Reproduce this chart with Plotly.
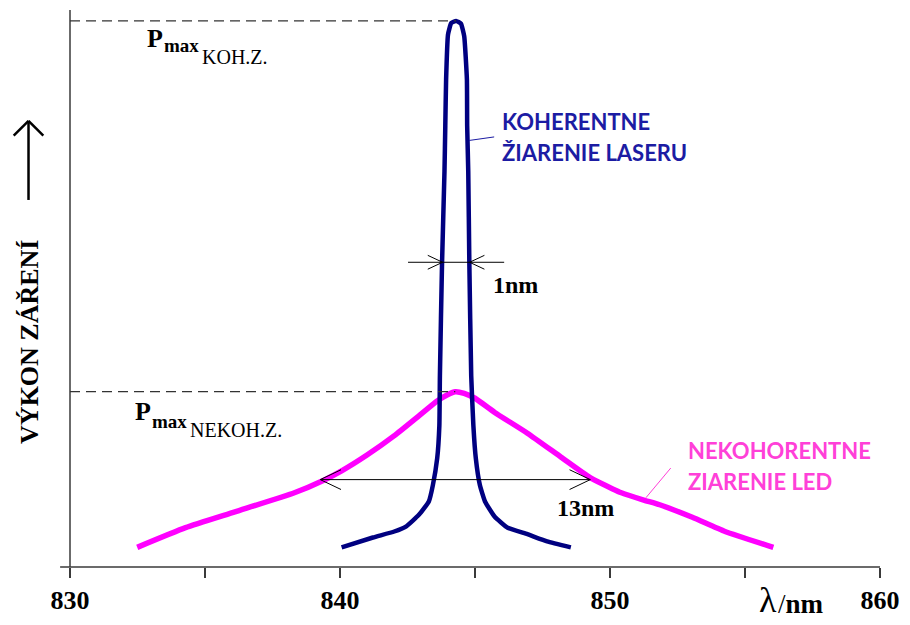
import plotly.graph_objects as go

# Spectral power of a laser (coherent) and an LED (incoherent) source, arbitrary units
laser_wl = [840.06, 841.22, 842.01, 842.44, 842.93, 843.29, 843.44, 843.60, 843.68, 843.70,
            843.78, 843.87, 843.90, 843.93, 844.00, 844.12, 844.30, 844.48, 844.60, 844.70,
            844.71, 844.75, 844.79, 844.86, 844.94, 845.03, 845.18, 845.37, 845.73, 846.21,
            846.94, 847.67, 848.55]
laser_pw = [0.036, 0.054, 0.065, 0.074, 0.096, 0.120, 0.150, 0.199, 0.259, 0.350,
            0.558, 0.725, 0.808, 0.893, 0.975, 0.996, 1.000, 0.995, 0.972, 0.893,
            0.808, 0.725, 0.558, 0.350, 0.259, 0.199, 0.150, 0.120, 0.092, 0.072,
            0.060, 0.047, 0.036]

led_wl = [832.49, 834.28, 836.11, 838.31, 839.40, 840.06, 841.00, 842.00, 843.00, 843.60,
          844.00, 844.27, 844.60, 845.00, 845.73, 846.94, 848.19, 849.28, 850.10, 850.42,
          851.22, 851.84, 853.05, 854.26, 856.05]
led_pw = [0.036, 0.072, 0.101, 0.136, 0.159, 0.176, 0.205, 0.240, 0.280, 0.304,
          0.316, 0.321, 0.318, 0.309, 0.283, 0.245, 0.201, 0.163, 0.143, 0.136,
          0.123, 0.114, 0.091, 0.065, 0.036]

x_ticks = [830, 835, 840, 845, 850, 855, 860]
x_tick_text = ["830", "", "840", "", "850", "", "860"]

laser_fwhm = 1.0          # labelled "1nm"
laser_fwhm_level = 0.558
led_arrow = [839.27, 849.27]
led_arrow_level = 0.16

W, H = 910, 625
ML, MR, MT, MB = 70, 20, 10, 52
X0, X1 = 830, 860
Y_TOP = 563 / 552

PW = W - ML - MR
PH = H - MT - MB
XS = PW / (X1 - X0)       # px per nm
YS = PH / Y_TOP           # px per power unit

laser_peak_i = laser_pw.index(max(laser_pw))
laser_peak_x, laser_peak_y = laser_wl[laser_peak_i], laser_pw[laser_peak_i]
led_peak_i = led_pw.index(max(led_pw))
led_peak_x, led_peak_y = led_wl[led_peak_i], led_pw[led_peak_i]

SERIF = "Liberation Serif"
SANS = "Lato"
NAVY = "#000080"
MAGENTA = "#ff00ff"
AXIS = "#3a3a3a"
BLUE_TXT = "#1c1ca3"
PINK_TXT = "#ff40d8"

fig = go.Figure()
fig.add_trace(go.Scatter(x=led_wl, y=led_pw, mode="lines",
                         line=dict(color=MAGENTA, width=5.5, shape="spline", smoothing=0.5),
                         hoverinfo="skip", showlegend=False))
fig.add_trace(go.Scatter(x=laser_wl, y=laser_pw, mode="lines",
                         line=dict(color=NAVY, width=4.5, shape="spline", smoothing=0.4),
                         hoverinfo="skip", showlegend=False))

shapes = []


def seg(x0, y0, x1, y1, color="black", width=1, dash=None, xref="x", yref="y"):
    ln = dict(color=color, width=width)
    if dash:
        ln["dash"] = dash
    shapes.append(dict(type="line", x0=x0, y0=y0, x1=x1, y1=y1,
                       xref=xref, yref=yref, line=ln, layer="above"))


# axes
seg(0, 0, 0, 1, color=AXIS, width=1.5, xref="paper", yref="paper")
seg(-10 / PW, 0, 1, 0, color=AXIS, width=1.5, xref="paper", yref="paper")

# level markers for the two maxima
seg(X0 - 15 / XS, laser_peak_y, X0, laser_peak_y, color=AXIS, width=1.2)
seg(X0, laser_peak_y, laser_peak_x, laser_peak_y, color="#333333", width=1.2, dash="10px,6px")
seg(X0 - 10 / XS, led_peak_y, X0, led_peak_y, color=AXIS, width=1.2)
seg(X0, led_peak_y, led_peak_x, led_peak_y, color="#333333", width=1.2, dash="10px,6px")

# 1 nm width marker (arrows pointing inwards)
half = laser_fwhm / 2
lx0, lx1 = laser_peak_x - half, laser_peak_x + half
seg(lx0 - 35 / XS, laser_fwhm_level, lx1 + 35 / XS, laser_fwhm_level, width=1)
for tip, d in ((lx0, -1), (lx1, 1)):
    seg(tip, laser_fwhm_level, tip + d * 15 / XS, laser_fwhm_level + 7 / YS, width=1)
    seg(tip, laser_fwhm_level, tip + d * 15 / XS, laser_fwhm_level - 7 / YS, width=1)

# 13 nm width marker (arrows pointing outwards)
ax0, ax1 = led_arrow
seg(ax0, led_arrow_level, ax1, led_arrow_level, width=1)
for tip, d in ((ax0, 1), (ax1, -1)):
    seg(tip, led_arrow_level, tip + d * 21 / XS, led_arrow_level + 10 / YS, width=1)
    seg(tip, led_arrow_level, tip + d * 21 / XS, led_arrow_level - 10 / YS, width=1)

# leader lines for the curve labels
seg(844.78, 0.781, 845.71, 0.7875, color=BLUE_TXT, width=1)
seg(851.33, 0.1268, 852.25, 0.1812, color=PINK_TXT, width=1)

# upward arrow beside the y title
ax_x = (28 - ML) / PW
y_lo, y_hi = (573 - 202) / PH, (573 - 122) / PH
arm_y = (573 - 137) / PH
seg(ax_x, y_lo, ax_x, y_hi, width=2.5, xref="paper", yref="paper")
seg((13 - ML) / PW, arm_y, ax_x, y_hi, width=2.5, xref="paper", yref="paper")
seg((43 - ML) / PW, arm_y, ax_x, y_hi, width=2.5, xref="paper", yref="paper")

ann = []


def text(s, x, y, size, color="black", family=SERIF, xanchor="center", xref="x", yref="y",
         angle=0):
    ann.append(dict(text=s, x=x, y=y, xref=xref, yref=yref, showarrow=False,
                    xanchor=xanchor, yanchor="middle", textangle=angle, borderpad=0,
                    font=dict(family=family, size=size, color=color)))


# P_max labels: "P", subscript "max", then the source name lower still
text("<b>P</b>", 832.82, 0.968, 26, xanchor="left")
text("<b>max</b>", 833.45, 0.9556, 19, xanchor="left")
text("KOH.Z.", 834.85, 0.934, 20, xanchor="left")
text("<b>P</b>", 832.38, 0.2844, 26, xanchor="left")
text("<b>max</b>", 833.01, 0.2663, 19, xanchor="left")
text("NEKOH.Z.", 834.41, 0.2509, 20, xanchor="left")

text("<b>1nm</b>", 846.50, 0.516, 24)
text("<b>13nm</b>", 849.09, 0.1087, 24)

text("<b>KOHERENTNE</b>", 845.97, 0.815, 22, color=BLUE_TXT, family=SANS, xanchor="left")
text("<b>ŽIARENIE LASERU</b>", 845.97, 0.759, 22, color=BLUE_TXT, family=SANS, xanchor="left")
text("<b>NEKOHORENTNE</b>", 852.87, 0.2138, 22, color=PINK_TXT, family=SANS, xanchor="left")
text("<b>ZIARENIE LED</b>", 852.87, 0.1558, 22, color=PINK_TXT, family=SANS, xanchor="left")

# axis titles
text("λ", 856.24, -0.060, 36, xanchor="right", yref="paper")
text("/<b>nm</b>", 856.20, -0.066, 27, xanchor="left", yref="paper")
text("<b>VÝKON ZÁŘENÍ</b>", (29 - ML) / PW, (573 - 346) / PH, 26,
     xref="paper", yref="paper", angle=-90)

fig.update_layout(
    width=W, height=H,
    margin=dict(l=ML, r=MR, t=MT, b=MB, pad=0),
    paper_bgcolor="white", plot_bgcolor="white",
    shapes=shapes, annotations=ann,
    xaxis=dict(range=[X0, X1], tickvals=x_ticks,
               ticktext=[f"<b>{t}</b>" if t else "" for t in x_tick_text],
               ticks="outside", ticklen=10, tickwidth=1.5, tickcolor=AXIS,
               showline=False, showgrid=False, zeroline=False,
               tickfont=dict(family=SERIF, size=26, color="black"),
               fixedrange=True),
    yaxis=dict(range=[0, Y_TOP], showticklabels=False, ticks="",
               showline=False, showgrid=False, zeroline=False, fixedrange=True),
    showlegend=False,
)

fig.write_html("out.html")
